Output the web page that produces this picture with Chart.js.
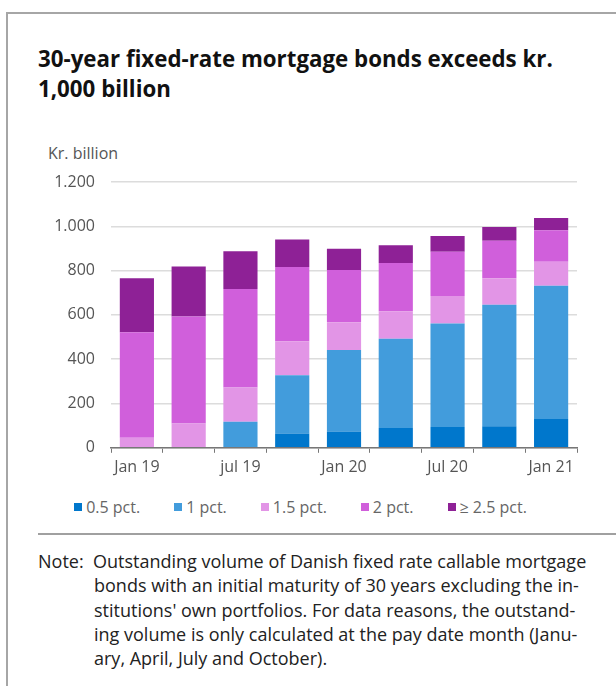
<!DOCTYPE html>
<html>
<head>
<meta charset="utf-8">
<script src="https://cdn.jsdelivr.net/npm/chart.js@4/dist/chart.umd.min.js"></script>
<style>
  html, body { margin: 0; padding: 0; background: #fff; }
  body { width: 616px; height: 686px; position: relative; overflow: hidden; font-family: "Open Sans", sans-serif; }
  #frame { position: absolute; left: 6px; top: 12px; width: 620px; height: 700px; border-top: 2px solid #a6a6a6; border-left: 2px solid #a6a6a6; }
  #title { position: absolute; left: 38px; top: 44px; width: 575px; font-size: 22.3px; font-weight: bold; line-height: 30px; color: #111; }
  #unit { position: absolute; left: 48px; top: 142px; font-size: 16px; color: #555; }
  #wrap { position: absolute; left: 40px; top: 140px; width: 550px; height: 342px; }
  #legend { position: absolute; left: 0; top: 496px; width: 601px; display: flex; justify-content: center; gap: 34px; font-size: 16px; color: #666; }
  #legend .item { display: flex; align-items: center; }
  #legend .box { width: 8px; height: 8px; margin-right: 4px; }
  #sep { position: absolute; left: 38px; top: 533px; width: 578px; height: 2px; background: #a0a0a0; }
  #note { position: absolute; left: 38px; top: 549px; width: 575px; font-size: 18px; line-height: 24.3px; color: #222; white-space: nowrap; }
  #note .lbl { display: inline-block; width: 55px; }
  #note .ind { padding-left: 56px; }
</style>
</head>
<body>
<div id="frame"></div>
<div id="title">30-year fixed-rate mortgage bonds exceeds kr.<br>1,000 billion</div>
<div id="unit">Kr. billion</div>
<div id="wrap"><canvas id="chart"></canvas></div>
<div id="legend"></div>
<div id="sep"></div>
<div id="note">
  <div><span class="lbl">Note:</span>Outstanding volume of Danish fixed rate callable mortgage</div>
  <div class="ind">bonds with an initial maturity of 30 years excluding the in-</div>
  <div class="ind">stitutions' own portfolios. For data reasons, the outstand-</div>
  <div class="ind">ing volume is only calculated at the pay date month (Janu-</div>
  <div class="ind">ary, April, July and October).</div>
</div>
<script>
// Kategorier (kvartaler)
const categories = ['Jan 19', 'Apr 19', 'jul 19', 'Oct 19', 'Jan 20', 'Apr 20', 'Jul 20', 'Oct 20', 'Jan 21'];

// Serier (kr. mia.)
const pct05 = [0, 0, 0, 65, 74, 89, 94, 97, 130];
const pct1 = [0, 0, 118, 263, 368, 403, 467, 549, 602];
const pct15 = [45, 110, 154, 153, 125, 125, 124, 120, 108];
const pct2 = [477, 483, 445, 335, 236, 217, 200, 169, 142];
const pct25 = [244, 226, 170, 124, 96, 80, 71, 62, 56];

const seriesNames = ['0.5 pct.', '1 pct.', '1.5 pct.', '2 pct.', '\u2265 2.5 pct.'];
const seriesColors = ['#0077cc', '#429cdc', '#e295e6', '#d05fdb', '#8e2196'];

const yTicks = [0, 200, 400, 600, 800, 1000, 1200];

function formatNumber(v) {
    return String(v).replace(/\B(?=(\d{3})+(?!\d))/g, '.');
}

const datasets = [pct05, pct1, pct15, pct2, pct25].map((data, i) => ({
    label: seriesNames[i],
    data: data,
    backgroundColor: seriesColors[i],
    borderWidth: 0,
    categoryPercentage: 1,
    barPercentage: 0.66
}));

// Legende
const legend = document.getElementById('legend');
seriesNames.forEach((name, i) => {
    const item = document.createElement('div');
    item.className = 'item';
    item.innerHTML = `<span class="box" style="background:${seriesColors[i]}"></span><span>${name}</span>`;
    legend.appendChild(item);
});

Chart.defaults.font.family = '"Open Sans", sans-serif';

new Chart(document.getElementById('chart').getContext('2d'), {
    type: 'bar',
    data: { labels: categories, datasets: datasets },
    options: {
        responsive: true,
        maintainAspectRatio: false,
        animation: false,
        layout: { padding: { left: 0, right: 13, top: 42, bottom: 0 } },
        plugins: {
            legend: { display: false },
            tooltip: { enabled: false }
        },
        scales: {
            x: {
                stacked: true,
                grid: { display: true, drawOnChartArea: false, drawTicks: true, tickLength: 5, color: '#777', offset: true },
                border: { display: true, color: '#777', width: 1.5 },
                ticks: {
                    color: '#555',
                    font: { size: 16 },
                    padding: 5,
                    maxRotation: 0,
                    autoSkip: false,
                    callback: function(value, index) {
                        return index % 2 === 0 ? categories[index] : '';
                    }
                }
            },
            y: {
                stacked: true,
                min: 0,
                max: 1200,
                afterBuildTicks: axis => { axis.ticks = yTicks.map(v => ({ value: v })); },
                afterFit: axis => { axis.width = 71; },
                grid: { color: '#dcdcdc', lineWidth: 1.5, drawTicks: false },
                border: { display: false },
                ticks: {
                    color: '#555',
                    font: { size: 16 },
                    padding: 16,
                    callback: v => formatNumber(v)
                }
            }
        }
    }
});
</script>
</body>
</html>
